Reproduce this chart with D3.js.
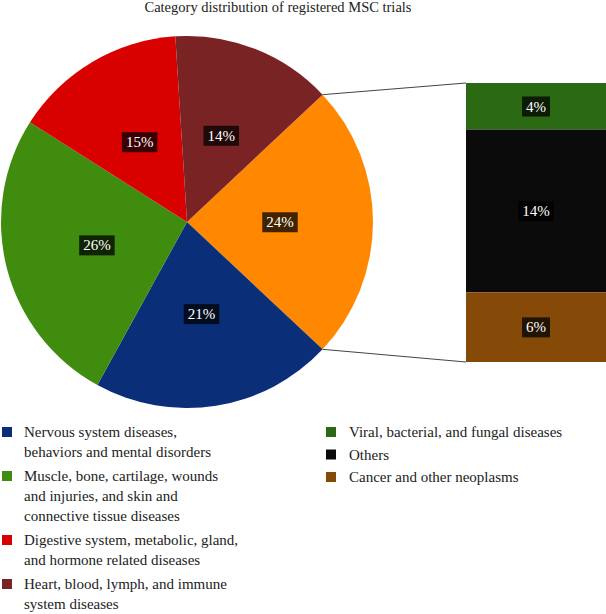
<!DOCTYPE html>
<meta charset="utf-8">
<style>
  body { margin: 0; background: #fff; }
  svg text { font-family: "Liberation Serif", "DejaVu Serif", serif; }
  .title { font-size: 14.5px; fill: #222; }
  .lbl { font-size: 15px; fill: #fff; }
  .legend text { font-size: 15px; fill: #222; }
</style>
<body>
<script src="https://cdn.jsdelivr.net/npm/d3@7"></script>
<script>

  // pie slices, clockwise starting from the aggregated slice
  var pieNames = ["Aggregated", "Nervous", "Muscle", "Digestive", "Heart"];
  var pieValues = [24, 21, 26, 15, 14];
  var pieColors = ["#ff8800", "#0a2e78", "#3f8c0e", "#d90000", "#7a2325"];

  // bar breakdown of the aggregated slice (top to bottom)
  var barNames = ["Viral", "Others", "Cancer"];
  var barValues = [4, 14, 6];
  var barColors = ["#2b6912", "#0b0b0b", "#854a08"];

  var legendLeft = [
    ["Nervous system diseases,", "behaviors and mental disorders"],
    ["Muscle, bone, cartilage, wounds", "and injuries, and skin and", "connective tissue diseases"],
    ["Digestive system, metabolic, gland,", "and hormone related diseases"],
    ["Heart, blood, lymph, and immune", "system diseases"]
  ];
  var legendLeftColors = ["#0a2e78", "#3f8c0e", "#d90000", "#7a2325"];
  var legendRight = ["Viral, bacterial, and fungal diseases", "Others", "Cancer and other neoplasms"];
  var legendRightColors = ["#2b6912", "#0b0b0b", "#854a08"];

  var width = 606, height = 614;
  var cx = 187, cy = 222, r = 186;

  var svg = d3.select("body").append("svg")
      .attr("width", width)
      .attr("height", height);

  svg.append("text")
      .attr("class", "title")
      .attr("x", 278)
      .attr("y", 12)
      .attr("text-anchor", "middle")
      .text("Category distribution of registered MSC trials");

  // rotate so the aggregated slice is centred on the right
  var aggAngle = pieValues[0] / d3.sum(pieValues) * 2 * Math.PI;
  var start = Math.PI / 2 - aggAngle / 2;

  var pie = d3.pie().sort(null).value(function(d) { return d; })
      .startAngle(start).endAngle(start + 2 * Math.PI);
  var arcs = pie(pieValues);
  var arc = d3.arc().innerRadius(0).outerRadius(r);

  var g = svg.append("g").attr("transform", "translate(" + cx + "," + cy + ")");

  g.selectAll("path")
    .data(arcs)
    .enter().append("path")
      .attr("d", arc)
      .attr("fill", function(d, i) { return pieColors[i]; });

  // bar of pie
  var barX = 466, barW = 140;
  var y = d3.scaleLinear().domain([0, d3.sum(barValues)]).range([83, 362]);
  var cum = d3.cumsum([0].concat(barValues));

  svg.selectAll("rect.bar")
    .data(barValues)
    .enter().append("rect")
      .attr("class", "bar")
      .attr("x", barX)
      .attr("width", barW)
      .attr("y", function(d, i) { return y(cum[i]); })
      .attr("height", function(d) { return y(d) - y(0); })
      .attr("fill", function(d, i) { return barColors[i]; });

  // connector lines
  var a0 = arcs[0].startAngle, a1 = arcs[0].endAngle;
  var conn = [
    [[cx + r * Math.sin(a0), cy - r * Math.cos(a0)], [barX, y(0)]],
    [[cx + r * Math.sin(a1), cy - r * Math.cos(a1)], [barX, y(d3.sum(barValues))]]
  ];
  svg.selectAll("line.conn")
    .data(conn)
    .enter().append("line")
      .attr("class", "conn")
      .attr("x1", function(d) { return d[0][0]; })
      .attr("y1", function(d) { return d[0][1]; })
      .attr("x2", function(d) { return d[1][0]; })
      .attr("y2", function(d) { return d[1][1]; })
      .attr("stroke", "#444")
      .attr("stroke-width", 1);

  function label(parent, x, yy, txt) {
    var t = parent.append("text")
        .attr("class", "lbl")
        .attr("x", x)
        .attr("y", yy)
        .attr("dy", "0.35em")
        .attr("text-anchor", "middle")
        .text(txt);
    var b = t.node().getBBox();
    parent.insert("rect", function() { return t.node(); })
        .attr("x", b.x - 4)
        .attr("y", b.y - 2)
        .attr("width", b.width + 8)
        .attr("height", b.height + 4)
        .attr("fill", "#000")
        .attr("fill-opacity", 0.74);
  }

  var total = d3.sum(pieValues);
  arcs.forEach(function(d) {
    var c = arc.centroid(d);
    label(g, c[0], c[1], Math.round(d.value / total * 100) + "%");
  });

  barValues.forEach(function(v, i) {
    label(svg, barX + barW / 2, (y(cum[i]) + y(cum[i + 1])) / 2, v + "%");
  });

  // legend
  var leg = svg.append("g").attr("class", "legend");
  var base = 437;
  legendLeft.forEach(function(lines, i) {
    leg.append("rect")
        .attr("x", 2).attr("y", base - 10)
        .attr("width", 10).attr("height", 10)
        .attr("fill", legendLeftColors[i]);
    var t = leg.append("text").attr("x", 24).attr("y", base);
    lines.forEach(function(s, j) {
      t.append("tspan").attr("x", 24).attr("y", base + j * 20).text(s);
    });
    base += lines.length * 20 + 4;
  });

  legendRight.forEach(function(s, i) {
    var by = 437 + i * 22.5;
    leg.append("rect")
        .attr("x", 326).attr("y", by - 10)
        .attr("width", 10).attr("height", 10)
        .attr("fill", legendRightColors[i]);
    leg.append("text").attr("x", 349).attr("y", by).text(s);
  });

</script>
</body>
